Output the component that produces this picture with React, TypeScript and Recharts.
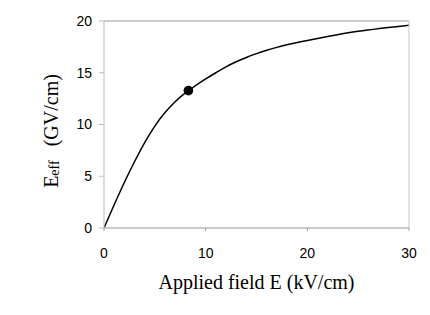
import {
    ComposedChart,
    Line,
    Scatter,
    XAxis,
    YAxis,
} from 'recharts';

// curve: applied field (kV/cm) -> Eeff (GV/cm)
const fieldValues = [0, 1, 2, 3, 4, 5, 6, 7, 8, 9, 10, 11, 12, 13, 14, 15, 16, 17, 18, 19, 20, 22, 25, 30];
const effValues = [0, 2.25, 4.4, 6.4, 8.25, 9.85, 11.15, 12.2, 13.05, 13.75, 14.4, 15.0, 15.57, 16.06, 16.48, 16.85, 17.17, 17.45, 17.7, 17.92, 18.12, 18.5, 19.0, 19.6];

const markerField = [8.3];
const markerEff = [13.27];

const xTicks = [0, 10, 20, 30];
const yTicks = [0, 5, 10, 15, 20];

const curve = fieldValues.map((x, i) => ({ x, y: effValues[i] }));
const marker = markerField.map((x, i) => ({ x, y: markerEff[i] }));

const tickStyle = { fontSize: 14, fill: '#000', fontFamily: '"Liberation Sans", Arial, sans-serif' };
const serif = '"Liberation Serif", "Times New Roman", serif';

function YTitle({ viewBox }: { viewBox?: { x: number; y: number; width: number; height: number } }) {
    if (!viewBox) return null;
    const cx = 58;
    const cy = viewBox.y + viewBox.height / 2 + 6.5;
    return (
        <text
            x={cx}
            y={cy}
            transform={`rotate(-90, ${cx}, ${cy})`}
            textAnchor="middle"
            fontFamily={serif}
            fontSize={20}
            fill="#000"
        >
            <tspan>E</tspan>
            <tspan fontSize={14} dy={1}>eff</tspan>
            <tspan dx={14} dy={-1}>(GV/cm)</tspan>
        </text>
    );
}

export default function App() {
    return (
        <div style={{ width: 430, height: 315, margin: -8, background: '#fff' }}>
            <ComposedChart width={430} height={315} margin={{ top: 20, right: 20, bottom: 0, left: 0 }}>
                <XAxis
                    dataKey="x"
                    type="number"
                    domain={[0, 30]}
                    ticks={xTicks}
                    tickSize={3}
                    tickMargin={17}
                    height={87}
                    stroke="#999"
                    tick={tickStyle}
                    allowDataOverflow
                    label={{
                        value: 'Applied field E (kV/cm)',
                        position: 'insideBottom',
                        offset: 26,
                        style: { fontSize: 20, fill: '#000', fontFamily: serif, textAnchor: 'middle' },
                    }}
                />
                {/* top edge of the plot box */}
                <XAxis
                    xAxisId="top"
                    orientation="top"
                    dataKey="x"
                    type="number"
                    domain={[0, 30]}
                    ticks={xTicks}
                    height={1}
                    tick={false}
                    tickLine={false}
                    stroke="#999"
                    allowDataOverflow
                />
                <YAxis
                    dataKey="y"
                    type="number"
                    domain={[0, 20]}
                    ticks={yTicks}
                    tickSize={5}
                    tickMargin={7}
                    width={104}
                    stroke="#bbb"
                    tick={tickStyle}
                    allowDataOverflow
                    label={<YTitle />}
                />
                {/* right edge of the plot box */}
                <YAxis
                    yAxisId="right"
                    orientation="right"
                    dataKey="y"
                    type="number"
                    domain={[0, 20]}
                    ticks={yTicks}
                    width={1}
                    tick={false}
                    tickLine={false}
                    stroke="#c8c8c8"
                    allowDataOverflow
                />
                <Line
                    data={curve}
                    dataKey="y"
                    type="monotone"
                    stroke="#000"
                    strokeWidth={1.5}
                    dot={false}
                    isAnimationActive={false}
                />
                <Scatter
                    data={marker}
                    dataKey="y"
                    xAxisId="top"
                    yAxisId="right"
                    fill="#000"
                    isAnimationActive={false}
                    shape={(p: any) => <circle cx={p.cx} cy={p.cy} r={4.8} fill="#000" />}
                />
            </ComposedChart>
        </div>
    );
}
